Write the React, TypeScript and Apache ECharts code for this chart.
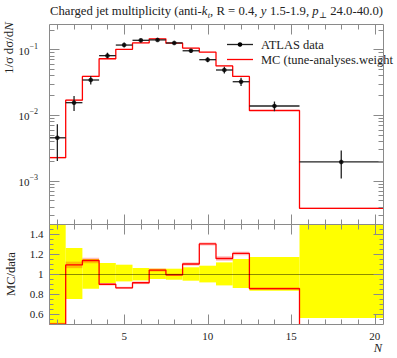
import React, { useEffect, useRef } from "react";
import * as echarts from "echarts";

// ---------------- data ----------------
const binEdges = [0.5, 1.5, 2.5, 3.5, 4.5, 5.5, 6.5, 7.5, 8.5, 9.5, 10.5, 11.5, 12.5, 15.5, 20.5];
const dataX = [1, 2, 3, 4, 5, 6, 7, 8, 9, 10, 11, 12, 14, 18];
const dataY = [0.0045, 0.0154, 0.0341, 0.08, 0.116, 0.137, 0.139, 0.125, 0.095, 0.0695, 0.0484, 0.0321, 0.0137, 0.00193];
const dataErrUpRel = [0.6, 0.26, 0.15, 0.11, 0.093, 0.06, 0.053, 0.053, 0.067, 0.083, 0.116, 0.15, 0.17, 0.49];
const dataErrDnRel = [0.555, 0.25, 0.147, 0.09, 0.074, 0.064, 0.05, 0.057, 0.067, 0.084, 0.114, 0.14, 0.167, 0.44];
const mcY = [0.00224, 0.0168, 0.0387, 0.0718, 0.1, 0.125, 0.1445, 0.124, 0.1045, 0.0904, 0.0559, 0.0387, 0.0117, 0.00038];
const mcErrRel = [0.03, 0.03, 0.025, 0.015, 0.012, 0.015, 0.015, 0.012, 0.015, 0.012, 0.02, 0.015, 0.015, 0.025];

const xTickValues = [5, 10, 15, 20];
const xTickLabels = ["5", "10", "15", "20"];
const ratioTickValues = [0.6, 0.8, 1, 1.2, 1.4];
const ratioTickLabels = ["0.6", "0.8", "1", "1.2", "1.4"];
const logTickValues = [0.001, 0.01, 0.1];
const logTickExponents = ["−3", "−2", "−1"];

const titleParts: [string, string][] = [
  ["Charged jet multiplicity (anti-", "n"],
  ["k", "i"],
  ["t", "isub"],
  [", R = 0.4, ", "n"],
  ["y", "i"],
  [" 1.5-1.9, ", "n"],
  ["p", "i"],
  ["⊥", "sub"],
  [" 24.0-40.0)", "n"],
];
const legendLabels = ["ATLAS data", "MC (tune-analyses.weight"];
const yTitleTop = "1/σ\u2009dσ/d";
const yTitleTopItalic = "N";
const yTitleRatio = "MC/data";
const xTitle = "N";

// ---------------- layout / style ----------------
const X_MIN = 0.5, X_MAX = 20.5;
const Y_MIN = Math.pow(10, -3.659), Y_MAX = Math.pow(10, -0.615);
const R_MIN = 0.5, R_MAX = 1.5;
const FAM = '"Liberation Serif", "DejaVu Serif", serif';
const AXIS_COLOR = "#8a8a8a";
const TEXT_COLOR = "#222";
const RED = "#ff0000";
const MC_BAND = "rgba(255,0,0,0.25)";

function px(v: number) {
  return Math.round(v) + 0.5;
}
function ln(x1: number, y1: number, x2: number, y2: number, stroke = AXIS_COLOR, w = 1) {
  return { type: "line", shape: { x1, y1, x2, y2 }, style: { stroke, lineWidth: w } };
}
function txt(text: string, x: number, y: number, size: number, align: string, valign = "middle", style = "normal") {
  return {
    type: "text",
    x,
    y,
    style: {
      text,
      fill: TEXT_COLOR,
      font: `${style} ${size}px ${FAM}`,
      textAlign: align,
      textVerticalAlign: valign,
      align,
      verticalAlign: valign,
    },
  };
}

function topAxes(params: any, api: any) {
  const tl = api.coord([X_MIN, Y_MAX]);
  const br = api.coord([X_MAX, Y_MIN]);
  const x0 = px(tl[0]), y0 = px(tl[1]), x1 = px(br[0]), y1 = px(br[1]);
  const ch: any[] = [];
  ch.push({ type: "rect", shape: { x: x0, y: y0, width: x1 - x0, height: y1 - y0 }, style: { fill: "none", stroke: AXIS_COLOR, lineWidth: 1 } });
  for (let v = 1; v <= 20; v++) {
    const X = px(api.coord([v, Y_MIN])[0]);
    const len = v % 5 === 0 ? 10 : 5;
    ch.push(ln(X, y1, X, y1 - len));
    ch.push(ln(X, y0, X, y0 + len));
  }
  for (let d = -4; d <= 0; d++) {
    for (let m = 1; m <= 9; m++) {
      const val = m * Math.pow(10, d);
      if (val < Y_MIN || val > Y_MAX) continue;
      const Y = px(api.coord([X_MIN, val])[1]);
      const len = m === 1 ? 10 : 5;
      ch.push(ln(x0, Y, x0 + len, Y));
      ch.push(ln(x1, Y, x1 - len, Y));
    }
  }
  logTickValues.forEach((v, i) => {
    const Y = api.coord([X_MIN, v])[1];
    ch.push(txt("10", x0 - 20, Y + 1.5, 11, "right"));
    ch.push(txt(logTickExponents[i], x0 - 20, Y - 3, 8, "left"));
  });
  return { type: "group", children: ch };
}

function ratioAxes(params: any, api: any) {
  const tl = api.coord([X_MIN, R_MAX]);
  const br = api.coord([X_MAX, R_MIN]);
  const x0 = px(tl[0]), y0 = px(tl[1]), x1 = px(br[0]), y1 = px(br[1]);
  const ch: any[] = [];
  const one = px(api.coord([X_MIN, 1])[1]);
  ch.push(ln(x0, one, x1, one, "rgba(0,0,0,0.45)", 1));
  ch.push({ type: "rect", shape: { x: x0, y: y0, width: x1 - x0, height: y1 - y0 }, style: { fill: "none", stroke: AXIS_COLOR, lineWidth: 1 } });
  for (let v = 1; v <= 20; v++) {
    const X = px(api.coord([v, R_MIN])[0]);
    const len = v % 5 === 0 ? 10 : 5;
    ch.push(ln(X, y1, X, y1 - len));
    ch.push(ln(X, y0, X, y0 + len));
  }
  for (let k = 11; k <= 29; k++) {
    const val = k * 0.05;
    const Y = px(api.coord([X_MIN, val])[1]);
    const major = k % 4 === 0;
    const len = major ? 10 : 4;
    ch.push(ln(x0, Y, x0 + len, Y));
    ch.push(ln(x1, Y, x1 - len, Y));
  }
  ratioTickValues.forEach((v, i) => {
    const Y = api.coord([X_MIN, v])[1];
    ch.push(txt(ratioTickLabels[i], x0 - 6, Y, 11, "right"));
  });
  xTickValues.forEach((v, i) => {
    const X = api.coord([v, R_MIN])[0];
    ch.push(txt(xTickLabels[i], X, y1 + 11, 11, "center"));
  });
  return { type: "group", children: ch };
}

function clampY(v: number, lo: number, hi: number) {
  return Math.max(lo, Math.min(hi, v));
}

function bandRender(lo: number, hi: number, fill: string) {
  return (params: any, api: any) => {
    const a = clampY(api.value(2), lo, hi);
    const b = clampY(api.value(3), lo, hi);
    const p1 = api.coord([api.value(0), b]);
    const p2 = api.coord([api.value(1), a]);
    return { type: "rect", shape: { x: p1[0], y: p1[1], width: p2[0] - p1[0], height: p2[1] - p1[1] }, style: { fill } };
  };
}

function errRender(params: any, api: any) {
  const y = api.coord([api.value(0), api.value(1)]);
  const l = api.coord([api.value(2), api.value(1)]);
  const r = api.coord([api.value(3), api.value(1)]);
  const lo = api.coord([api.value(0), clampY(api.value(4), Y_MIN, Y_MAX)]);
  const hi = api.coord([api.value(0), clampY(api.value(5), Y_MIN, Y_MAX)]);
  return {
    type: "group",
    children: [
      ln(l[0], y[1], r[0], y[1], "#222", 1.3),
      ln(y[0], lo[1], y[0], hi[1], "#222", 1.3),
    ],
  };
}

let measureCtx: CanvasRenderingContext2D | null = null;
function measure(text: string, font: string) {
  if (!measureCtx) measureCtx = document.createElement("canvas").getContext("2d");
  if (!measureCtx) return text.length * 6;
  measureCtx.font = font;
  return measureCtx.measureText(text).width;
}

function titleGraphics(x: number, y: number) {
  const els: any[] = [];
  let cx = x;
  titleParts.forEach(([t, kind]) => {
    const italic = kind === "i" || kind === "isub";
    const sub = kind === "sub" || kind === "isub";
    const size = sub ? 8.5 : 12.7;
    const fontStyle = italic ? "italic" : "normal";
    const font = `${fontStyle} ${size}px ${FAM}`;
    els.push({
      type: "text",
      x: cx,
      y: sub ? y + 3.5 : y,
      style: { text: t, font, fill: TEXT_COLOR, textAlign: "left", align: "left", textVerticalAlign: "middle", verticalAlign: "middle" },
    });
    cx += measure(t, font) + (italic && !sub ? 0.5 : 0);
  });
  return els;
}

export default function App() {
  const ref = useRef<HTMLDivElement>(null);
  useEffect(() => {
    if (!ref.current) return;
    const chart = echarts.init(ref.current, undefined, { renderer: "svg" });

    const mcStep: number[][] = [];
    const ratioStep: number[][] = [];
    const mcBand: number[][] = [];
    const ratioMcBand: number[][] = [];
    const dataBand: number[][] = [];
    const errData: number[][] = [];
    for (let i = 0; i < mcY.length; i++) {
      const lo = binEdges[i], hi = binEdges[i + 1];
      const r = mcY[i] / dataY[i];
      mcStep.push([lo, mcY[i]], [hi, mcY[i]]);
      ratioStep.push([lo, r], [hi, r]);
      mcBand.push([lo, hi, mcY[i] * (1 - mcErrRel[i]), mcY[i] * (1 + mcErrRel[i])]);
      ratioMcBand.push([lo, hi, r * (1 - mcErrRel[i]), r * (1 + mcErrRel[i])]);
      dataBand.push([lo, hi, 1 - dataErrDnRel[i], 1 + dataErrUpRel[i]]);
      errData.push([dataX[i], dataY[i], lo, hi, dataY[i] * (1 - dataErrDnRel[i]), dataY[i] * (1 + dataErrUpRel[i])]);
    }

    const option: any = {
      animation: false,
      backgroundColor: "#fff",
      grid: [
        { left: 49, top: 24, width: 334, height: 200, show: false },
        { left: 49, top: 224, width: 334, height: 100, show: false },
      ],
      xAxis: [
        { gridIndex: 0, type: "value", min: X_MIN, max: X_MAX, show: false },
        { gridIndex: 1, type: "value", min: X_MIN, max: X_MAX, show: false },
      ],
      yAxis: [
        { gridIndex: 0, type: "log", logBase: 10, min: Y_MIN, max: Y_MAX, show: false },
        { gridIndex: 1, type: "value", min: R_MIN, max: R_MAX, show: false },
      ],
      series: [
        // top panel
        { type: "custom", xAxisIndex: 0, yAxisIndex: 0, data: mcBand, renderItem: bandRender(Y_MIN, Y_MAX, MC_BAND), z: 2, silent: true },
        {
          type: "line", xAxisIndex: 0, yAxisIndex: 0, data: mcStep, symbol: "none", z: 3,
          lineStyle: { color: RED, width: 1.3 }, clip: true, silent: true,
        },
        { type: "custom", xAxisIndex: 0, yAxisIndex: 0, data: errData, renderItem: errRender, z: 4, silent: true },
        {
          type: "scatter", xAxisIndex: 0, yAxisIndex: 0, data: dataX.map((x, i) => [x, dataY[i]]),
          symbol: "circle", symbolSize: 4.6, itemStyle: { color: "#000" }, z: 5, silent: true,
        },
        { type: "custom", xAxisIndex: 0, yAxisIndex: 0, data: [[X_MIN, Y_MIN]], renderItem: topAxes, z: 6, silent: true },
        // ratio panel
        { type: "custom", xAxisIndex: 1, yAxisIndex: 1, data: dataBand, renderItem: bandRender(R_MIN, R_MAX, "#ffff00"), z: 1, silent: true },
        { type: "custom", xAxisIndex: 1, yAxisIndex: 1, data: ratioMcBand, renderItem: bandRender(R_MIN, R_MAX, MC_BAND), z: 2, silent: true },
        {
          type: "line", xAxisIndex: 1, yAxisIndex: 1, data: ratioStep, symbol: "none", z: 3,
          lineStyle: { color: RED, width: 1.3 }, clip: true, silent: true,
        },
        { type: "custom", xAxisIndex: 1, yAxisIndex: 1, data: [[X_MIN, R_MIN]], renderItem: ratioAxes, z: 6, silent: true },
      ],
      graphic: [
        ...titleGraphics(50, 11),
        {
          type: "text", x: 8, y: 22, rotation: Math.PI / 2,
          style: {
            text: yTitleTop + "{i|" + yTitleTopItalic + "}", font: `normal 13px ${FAM}`, fill: TEXT_COLOR,
            textAlign: "right", align: "right", textVerticalAlign: "middle", verticalAlign: "middle",
            rich: { i: { fontStyle: "italic", fontSize: 13, fontFamily: FAM, fill: TEXT_COLOR } },
          },
        },
        {
          type: "text", x: 11, y: 274, rotation: Math.PI / 2,
          style: { text: yTitleRatio, font: `normal 12.5px ${FAM}`, fill: TEXT_COLOR, textAlign: "center", align: "center", textVerticalAlign: "middle", verticalAlign: "middle" },
        },
        {
          type: "text", x: 382, y: 348,
          style: { text: xTitle, font: `italic 12.5px ${FAM}`, fill: TEXT_COLOR, textAlign: "right", align: "right", textVerticalAlign: "middle", verticalAlign: "middle" },
        },
        // legend
        { type: "line", shape: { x1: 227, y1: 44.5, x2: 253, y2: 44.5 }, style: { stroke: "#222", lineWidth: 1.3 } },
        { type: "circle", shape: { cx: 240, cy: 44.5, r: 2.3 }, style: { fill: "#000" } },
        {
          type: "text", x: 261, y: 44.5,
          style: { text: legendLabels[0], font: `normal 12.5px ${FAM}`, fill: TEXT_COLOR, textAlign: "left", align: "left", textVerticalAlign: "middle", verticalAlign: "middle" },
        },
        { type: "line", shape: { x1: 227, y1: 59.5, x2: 253, y2: 59.5 }, style: { stroke: RED, lineWidth: 1.3 } },
        {
          type: "text", x: 261, y: 59.5,
          style: { text: legendLabels[1], font: `normal 12.5px ${FAM}`, fill: TEXT_COLOR, textAlign: "left", align: "left", textVerticalAlign: "middle", verticalAlign: "middle" },
        },
      ],
    };
    chart.setOption(option);
    return () => chart.dispose();
  }, []);
  return <div ref={ref} style={{ position: "fixed", left: 0, top: 0, width: 397, height: 358, background: "#fff" }} />;
}
